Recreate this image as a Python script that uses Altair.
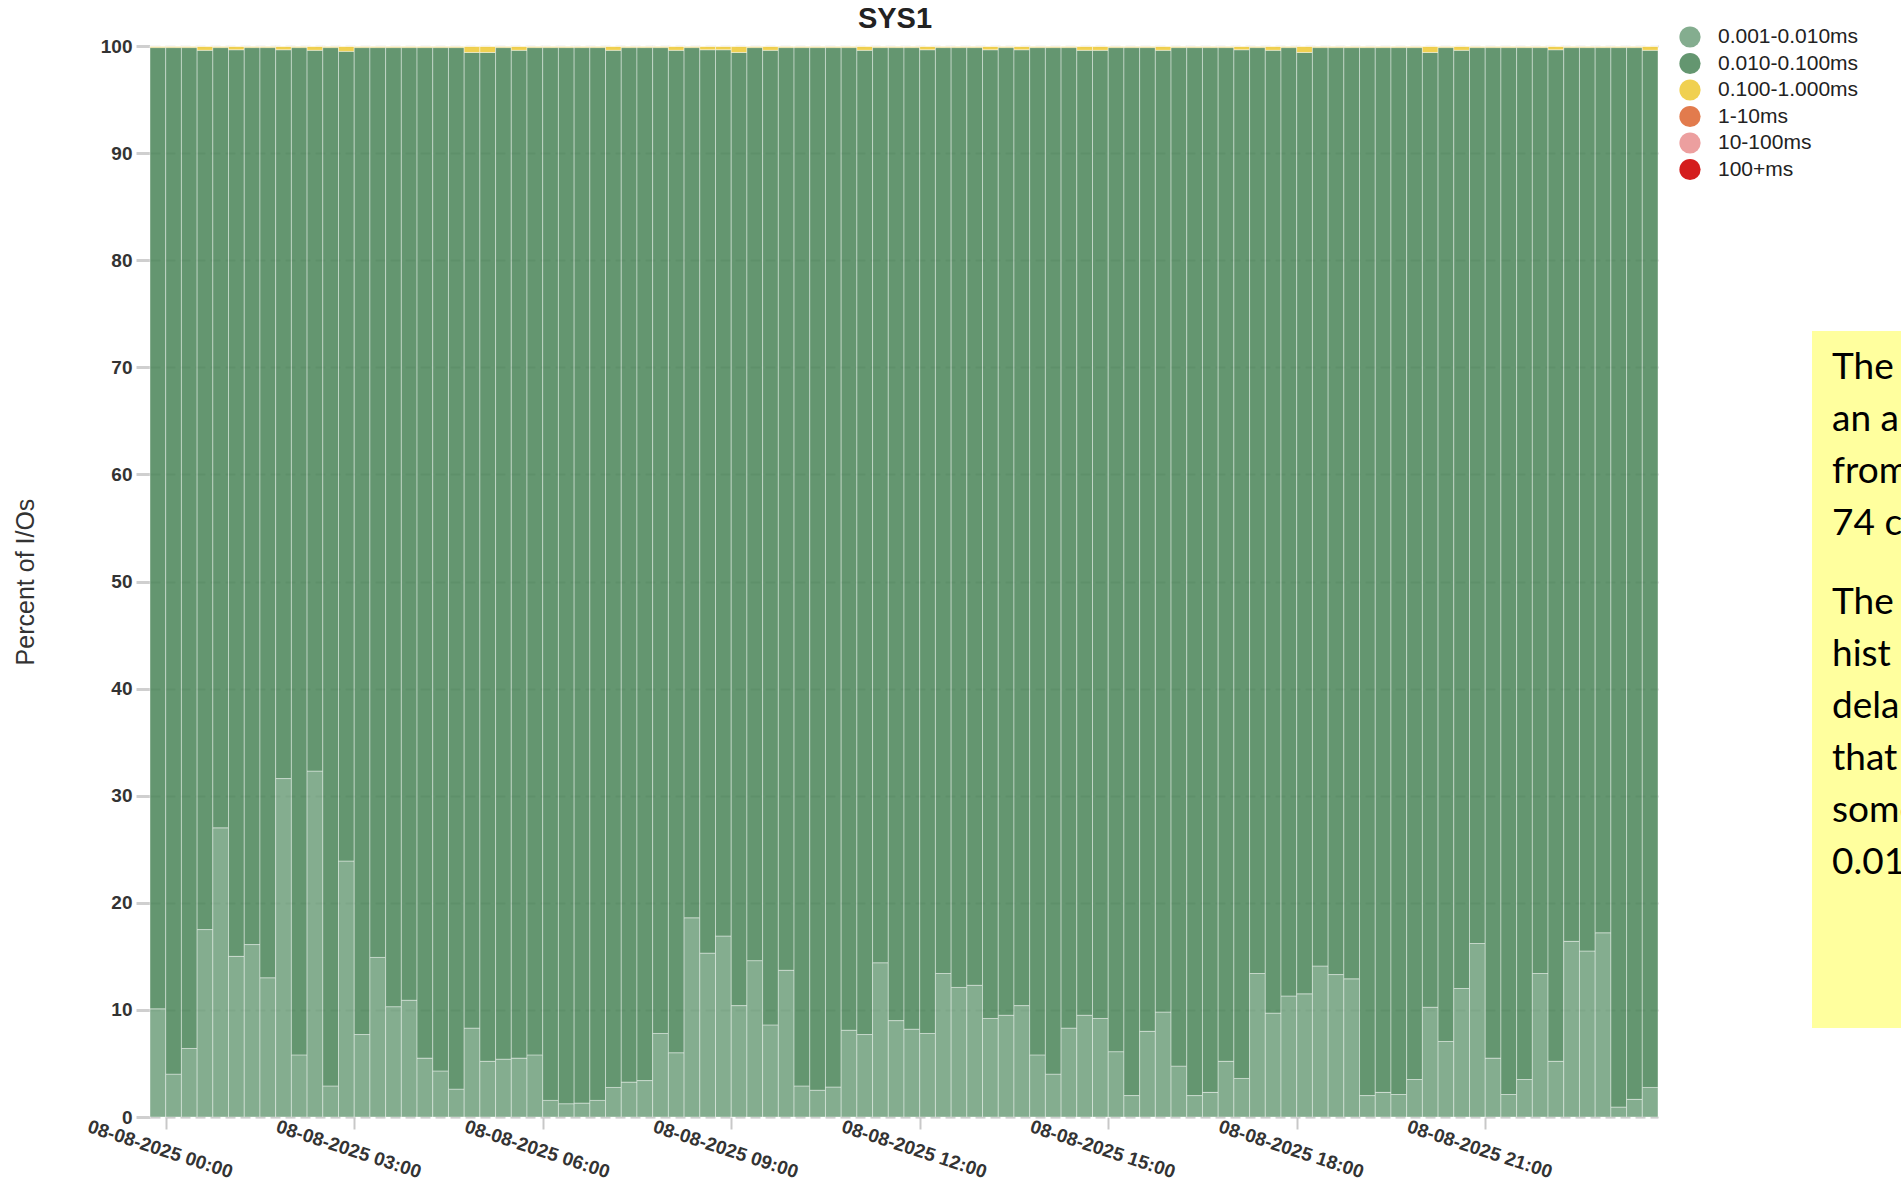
import altair as alt
import pandas as pd

# ---------------- data ----------------
CATEGORIES = ["0.001-0.010ms", "0.010-0.100ms", "0.100-1.000ms", "1-10ms", "10-100ms", "100+ms"]
COLORS = ["#77A483", "#538B60", "#EECB3D", "#DF6D3A", "#EA9595", "#CF0505"]

FIRST_START = "2025-08-07 23:45"   # intervals of 15 minutes, 96 of them
N_INTERVALS = 96

# percent of I/Os in 0.001-0.010ms bucket (light green), per interval
PCT_0001_0010 = [
    10.1, 4.0, 6.4, 17.5, 27.0, 15.0, 16.1, 13.0, 31.6, 5.8, 32.3, 2.9,
    23.9, 7.7, 14.9, 10.3, 10.9, 5.5, 4.3, 2.6, 8.3, 5.2, 5.4, 5.5,
    5.8, 1.55, 1.24, 1.3, 1.55, 2.76, 3.26, 3.4, 7.8, 6.0, 18.6, 15.3,
    16.9, 10.4, 14.6, 8.6, 13.7, 2.9, 2.5, 2.8, 8.1, 7.7, 14.4, 9.0,
    8.2, 7.8, 13.4, 12.1, 12.3, 9.2, 9.5, 10.4, 5.8, 4.0, 8.3, 9.5,
    9.2, 6.1, 2.0, 8.0, 9.8, 4.75, 2.0, 2.3, 5.2, 3.6, 13.4, 9.7,
    11.3, 11.5, 14.1, 13.3, 12.9, 2.0, 2.3, 2.1, 3.5, 10.25, 7.05, 12.0,
    16.2, 5.5, 2.1, 3.5, 13.4, 5.2, 16.4, 15.5, 17.2, 0.93, 1.65, 2.76,
]

# percent of I/Os in 0.100-1.000ms bucket (yellow), per interval
PCT_0100_1000 = [
    0.15, 0.15, 0.15, 0.4, 0.15, 0.35, 0.15, 0.15, 0.35, 0.15, 0.4, 0.15,
    0.5, 0.15, 0.15, 0.15, 0.15, 0.15, 0.15, 0.15, 0.6, 0.6, 0.15, 0.4,
    0.15, 0.15, 0.15, 0.15, 0.15, 0.4, 0.15, 0.15, 0.15, 0.4, 0.15, 0.35,
    0.35, 0.6, 0.15, 0.4, 0.15, 0.15, 0.15, 0.15, 0.15, 0.4, 0.15, 0.15,
    0.15, 0.35, 0.15, 0.15, 0.15, 0.35, 0.15, 0.35, 0.15, 0.15, 0.15, 0.4,
    0.4, 0.15, 0.15, 0.15, 0.4, 0.15, 0.15, 0.15, 0.15, 0.35, 0.15, 0.4,
    0.15, 0.6, 0.15, 0.15, 0.15, 0.15, 0.15, 0.15, 0.15, 0.6, 0.15, 0.4,
    0.15, 0.15, 0.15, 0.15, 0.15, 0.35, 0.15, 0.15, 0.15, 0.15, 0.15, 0.4,
]

PCT_1_10 = [0.0] * N_INTERVALS
PCT_10_100 = [0.0] * N_INTERVALS
PCT_100_PLUS = [0.0] * N_INTERVALS

NOTE_PARA_1 = ["The", "an a", "from", "74 c"]
NOTE_PARA_2 = ["The", "hist", "dela", "that", "some", "0.01"]

TICK_HOURS = [0, 3, 6, 9, 12, 15, 18, 21]

# ---------------- table ----------------
starts = pd.date_range(FIRST_START, periods=N_INTERVALS, freq="15min")
rows = []
for i, s in enumerate(starts):
    e = s + pd.Timedelta(minutes=15)
    light = PCT_0001_0010[i]
    yellow = PCT_0100_1000[i]
    other = PCT_1_10[i] + PCT_10_100[i] + PCT_100_PLUS[i]
    dark = 100.0 - light - yellow - other
    vals = [light, dark, yellow, PCT_1_10[i], PCT_10_100[i], PCT_100_PLUS[i]]
    for r, (cat, v) in enumerate(zip(CATEGORIES, vals)):
        rows.append({
            "start": s.strftime("%Y-%m-%dT%H:%M:%S"),
            "end": e.strftime("%Y-%m-%dT%H:%M:%S"),
            "bucket": cat,
            "rank": r,
            "pct": v,
        })
df = pd.DataFrame(rows)

tick_values = [alt.DateTime(year=2025, month=8, date=8, hours=h, minutes=0) for h in TICK_HOURS]
x_domain = [
    alt.DateTime(year=2025, month=8, date=7, hours=23, minutes=45),
    alt.DateTime(year=2025, month=8, date=8, hours=23, minutes=45),
]

PLOT_W = 1508
PLOT_H = 1071

bars = alt.Chart(df).transform_stack(
    stack="pct",
    groupby=["start"],
    sort=[alt.SortField("rank", order="ascending")],
    as_=["y0", "y1"],
).mark_rect(
    fillOpacity=0.9, stroke="white", strokeWidth=1, strokeOpacity=0.4
).encode(
    x=alt.X(
        "start:T",
        scale=alt.Scale(domain=x_domain),
        axis=alt.Axis(
            values=tick_values,
            format="%m-%d-%Y %H:%M",
            labelAngle=18,
            labelAlign="center",
            labelBaseline="middle",
            labelPadding=20,
            labelOffset=-6,
            tickSize=12,
            tickWidth=2,
            tickColor="#c8c8c8",
            grid=False,
            domain=False,
            title=None,
            labelFontSize=19,
            labelFontWeight="bold",
            labelColor="#333333",
            labelFont="Liberation Sans",
            labelOverlap=False,
        ),
    ),
    x2="end:T",
    y=alt.Y(
        "y0:Q",
        scale=alt.Scale(domain=[0, 100]),
        axis=alt.Axis(
            values=list(range(0, 101, 10)),
            title="Percent of I/Os",
            titleFontSize=25,
            titleFontWeight="normal",
            titleColor="#333333",
            titleFont="Liberation Sans",
            titlePadding=62,
            labelFontSize=19,
            labelFontWeight="bold",
            labelColor="#333333",
            labelFont="Liberation Sans",
            labelPadding=4,
            tickSize=14,
            tickWidth=3,
            tickColor="#cfcfcf",
            domain=False,
            grid=True,
            gridDash=[10, 5],
            gridColor="#9a9a9a",
            gridWidth=2,
            gridOpacity=0.6,
        ),
    ),
    y2="y1:Q",
    color=alt.Color(
        "bucket:N",
        scale=alt.Scale(domain=CATEGORIES, range=COLORS),
        legend=alt.Legend(
            title=None,
            orient="none",
            legendX=1529,
            legendY=-20,
            symbolType="circle",
            symbolSize=450,
            symbolOpacity=0.9,
            symbolStrokeWidth=0,
            labelFontSize=21,
            labelFont="Liberation Sans",
            labelColor="#222222",
            labelOffset=17,
            rowPadding=4.5,
        ),
    ),
)

anchor = pd.DataFrame({"k": [0]})

note_box = alt.Chart(anchor).mark_rect(color="#FFFF9E").encode(
    x=alt.value(1662), x2=alt.value(1800), y=alt.value(285), y2=alt.value(982)
)

note_1 = alt.Chart(anchor).mark_text(
    text=NOTE_PARA_1, align="left", baseline="alphabetic", font="Lato",
    fontSize=37, lineHeight=52, color="#000000"
).encode(x=alt.value(1682), y=alt.value(333))

note_2 = alt.Chart(anchor).mark_text(
    text=NOTE_PARA_2, align="left", baseline="alphabetic", font="Lato",
    fontSize=37, lineHeight=52, color="#000000"
).encode(x=alt.value(1682), y=alt.value(568))

chart = alt.layer(bars, note_box, note_1, note_2).properties(
    width=PLOT_W,
    height=PLOT_H,
    title=alt.Title(
        "SYS1", fontSize=29, fontWeight="bold", anchor="middle", offset=14,
        dy=22, dx=-9, color="#222222", font="Liberation Sans"
    ),
    autosize=alt.AutoSizeParams(type="none"),
    padding={"left": 150, "top": 46, "right": 243, "bottom": 65},
).configure_view(stroke=None)

chart.save("out.html", embed_options={"renderer": "svg", "actions": False})
